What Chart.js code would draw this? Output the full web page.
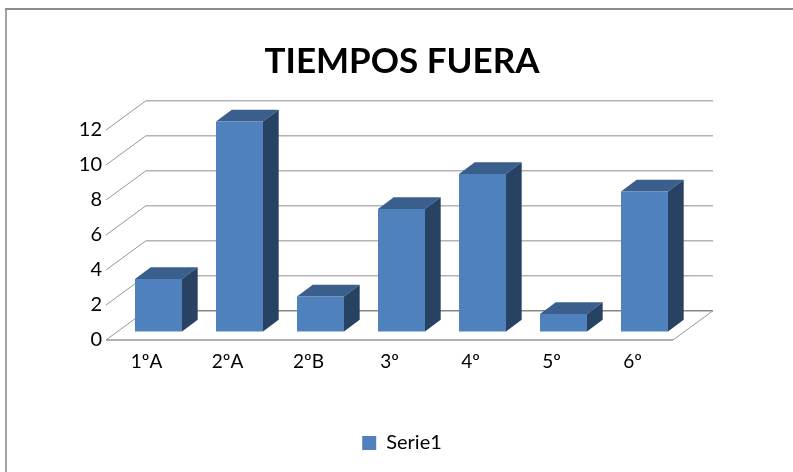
<!DOCTYPE html>
<html>
<head>
<meta charset="utf-8">
<style>
  html, body { margin: 0; padding: 0; background: #fff; }
  canvas { display: block; }
</style>
<script src="https://cdn.jsdelivr.net/npm/chart.js@4"></script>
</head>
<body>
<canvas id="chart" width="793" height="472"></canvas>
<script>
const categories = ['1ºA', '2ºA', '2ºB', '3º', '4º', '5º', '6º'];
const serie1 = [3, 12, 2, 7, 9, 1, 8];
const yTicks = [0, 2, 4, 6, 8, 10, 12];

// fake 3d: depth of the whole floor, bars stand in the middle of it
const wallDx = 40, wallDy = 29.3;
const barDx = 12, barDy = 8.6;
const sideDx = 15.7, sideDy = 11.6;

const fakeBox = {
  id: 'fakeBox',
  beforeDraw(chart) {
    const ctx = chart.ctx;
    ctx.save();
    ctx.lineWidth = 2;
    ctx.strokeStyle = '#a3a3a3';
    ctx.beginPath();
    ctx.moveTo(6, 472);
    ctx.lineTo(6, 8);
    ctx.stroke();
    ctx.strokeStyle = '#8c8c8c';
    ctx.beginPath();
    ctx.moveTo(5, 9);
    ctx.lineTo(793, 9);
    ctx.stroke();
    ctx.restore();
  },
  beforeDatasetsDraw(chart) {
    const ctx = chart.ctx, y = chart.scales.y, a = chart.chartArea;
    ctx.save();
    yTicks.forEach(v => {
      const py = y.getPixelForValue(v);
      ctx.strokeStyle = '#969696';
      ctx.lineWidth = 1;
      ctx.beginPath();
      ctx.moveTo(a.left, py);
      ctx.lineTo(a.left + wallDx, py - wallDy);
      ctx.stroke();
      ctx.strokeStyle = v === 0 ? '#868686' : '#b4b4b4';
      ctx.lineWidth = 1.5;
      ctx.beginPath();
      ctx.moveTo(a.left + wallDx, py - wallDy);
      ctx.lineTo(a.right + wallDx, py - wallDy);
      ctx.stroke();
    });
    // floor front and right edges
    const p0 = y.getPixelForValue(0);
    ctx.strokeStyle = '#969696';
    ctx.lineWidth = 1;
    ctx.beginPath();
    ctx.moveTo(a.right, p0);
    ctx.lineTo(a.right + wallDx, p0 - wallDy);
    ctx.stroke();
    ctx.lineWidth = 1.5;
    ctx.beginPath();
    ctx.moveTo(a.left, p0);
    ctx.lineTo(a.right, p0);
    ctx.stroke();

    // top and side faces, front face comes from the dataset itself
    chart.getDatasetMeta(0).data.forEach(bar => {
      const l = bar.x - bar.width / 2 + barDx, r = bar.x + bar.width / 2 + barDx;
      const t = bar.y - barDy, b = bar.base - barDy;
      ctx.fillStyle = '#3b5f8c';
      ctx.beginPath();
      ctx.moveTo(l, t);
      ctx.lineTo(l + sideDx, t - sideDy);
      ctx.lineTo(r + sideDx, t - sideDy);
      ctx.lineTo(r, t);
      ctx.closePath();
      ctx.fill();
      ctx.fillStyle = '#284264';
      ctx.beginPath();
      ctx.moveTo(r, t);
      ctx.lineTo(r + sideDx, t - sideDy);
      ctx.lineTo(r + sideDx, b - sideDy);
      ctx.lineTo(r, b);
      ctx.closePath();
      ctx.fill();
    });
    ctx.restore();
    ctx.save();
    ctx.translate(barDx, -barDy);
  },
  afterDatasetsDraw(chart) {
    chart.ctx.restore();
  }
};

new Chart(document.getElementById('chart'), {
  type: 'bar',
  data: {
    labels: categories,
    datasets: [{
      label: 'Serie1',
      data: serie1,
      backgroundColor: '#4f81bd',
      categoryPercentage: 1,
      barPercentage: 0.58,
      clip: false
    }]
  },
  options: {
    responsive: false,
    animation: false,
    layout: { padding: { left: 11, right: 0, top: 0, bottom: 9 } },
    plugins: {
      title: {
        display: true,
        text: 'TIEMPOS FUERA',
        color: '#000',
        font: { family: 'Lato', size: 35, weight: 'bold' },
        padding: { top: 41, bottom: 47 }
      },
      legend: {
        position: 'bottom',
        labels: {
          color: '#000',
          font: { family: 'Lato', size: 20 },
          boxWidth: 14,
          boxHeight: 14,
          padding: 20
        }
      },
      tooltip: { enabled: false }
    },
    scales: {
      x: {
        grid: { display: false, tickLength: 0 },
        border: { display: false },
        ticks: { color: '#000', font: { family: 'Lato', size: 19 }, padding: 10, maxRotation: 0 },
        afterFit(s) { s.height = 73; }
      },
      y: {
        min: 0,
        max: 12,
        grid: { display: false, tickLength: 0 },
        border: { display: false },
        ticks: { color: '#000', font: { family: 'Lato', size: 20 }, stepSize: 2, padding: 4 },
        afterFit(s) { s.width = 95; }
      },
      // empty axis on the right, only holds the plot in place so the title stays centred
      yRight: {
        position: 'right',
        grid: { display: false },
        border: { display: false },
        ticks: { display: false },
        afterFit(s) { s.width = 120; }
      }
    }
  },
  plugins: [fakeBox]
});
</script>
</body>
</html>
